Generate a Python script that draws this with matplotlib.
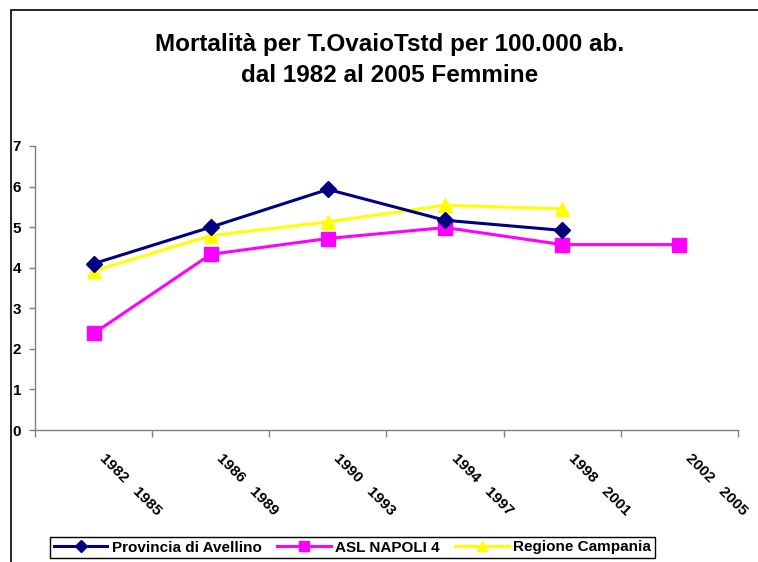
import matplotlib
matplotlib.use("Agg")
import matplotlib.pyplot as plt
from matplotlib.patches import Rectangle

categories = ["1982   1985", "1986   1989", "1990   1993", "1994   1997", "1998   2001", "2002   2005"]
avellino = [4.10, 5.00, 5.93, 5.17, 4.92, None]
asl_napoli4 = [2.38, 4.33, 4.72, 4.99, 4.57, 4.57]
campania = [3.92, 4.79, 5.13, 5.54, 5.45, None]
yticks = [0, 1, 2, 3, 4, 5, 6, 7]

plt.rcParams['font.family'] = ['Liberation Sans', 'DejaVu Sans']

W, H = 758, 562
fig = plt.figure(figsize=(W / 100, H / 100), dpi=100)
ax = fig.add_axes([35 / W, 1 - 430 / H, (738 - 35) / W, (430 - 146) / H])

x = list(range(len(categories)))

def xy(vals):
    xs = [i for i, v in zip(x, vals) if v is not None]
    ys = [v for v in vals if v is not None]
    return xs, ys

xs, ys = xy(avellino)
ax.plot(xs, ys, color="#000080", lw=2.2, marker="D", ms=8.5, mfc="#000080", mec="#000080",
        label="Provincia di Avellino", zorder=3)
xs, ys = xy(asl_napoli4)
ax.plot(xs, ys, color="#FF00FF", lw=2.2, marker="s", ms=10, mfc="#FF00FF", mec="#FF00FF",
        label="ASL NAPOLI 4", zorder=2)
xs, ys = xy(campania)
ax.plot(xs, ys, color="#FFFF00", lw=2.2, marker="^", ms=10.5, mfc="#FFFF00", mec="#FFFF00",
        label="Regione Campania", zorder=2.5)

ax.set_xlim(-0.5, len(categories) - 0.5)
ax.set_ylim(0, 7)
ax.set_yticks(yticks)
ax.set_yticklabels([str(t) for t in yticks], fontsize=11, fontweight="bold")

ax.set_xticks([i - 0.5 for i in range(len(categories) + 1)])
ax.set_xticklabels([])
ax.tick_params(axis="x", direction="out", length=5, color="#808080", width=1)
ax.tick_params(axis="y", direction="out", length=4, color="#808080", width=1, pad=6)
for i, c in enumerate(categories):
    ax.annotate(c, xy=(i, 0), xycoords="data", xytext=(6, -18.5), textcoords="offset points",
                rotation=-45, rotation_mode="anchor", ha="left", va="center",
                fontsize=11, fontweight="bold", annotation_clip=False)

for s in ["top", "right"]:
    ax.spines[s].set_visible(False)
for s in ["left", "bottom"]:
    ax.spines[s].set_color("#808080")
    ax.spines[s].set_linewidth(1)

fig.text(390 / W, 1 - 44 / H, "Mortalità per T.OvaioTstd per 100.000 ab.",
         ha="center", va="center", fontsize=17.5, fontweight="bold")
fig.text(390 / W, 1 - 76 / H, "dal 1982 al 2005 Femmine",
         ha="center", va="center", fontsize=17.5, fontweight="bold")

leg = fig.legend(loc="center", bbox_to_anchor=(352.5 / W, 1 - 547.5 / H), ncol=3,
                 frameon=True, fancybox=False, edgecolor="black", framealpha=1,
                 prop={"weight": "bold", "size": 11}, handlelength=3.5, markerscale=0.75,
                 columnspacing=1.0, handletextpad=0.3, borderpad=0.25, borderaxespad=0)
leg.get_frame().set_linewidth(1)

fig.patches.append(Rectangle((11 / W, -0.1), 1.2, 1 - 10 / H + 0.1, transform=fig.transFigure,
                             fill=False, edgecolor="black", lw=1.2))

fig.savefig("out.png", dpi=100)
